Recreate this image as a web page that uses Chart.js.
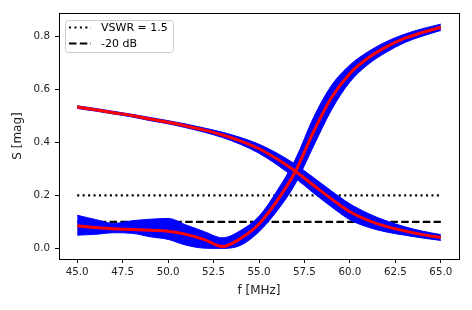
<!DOCTYPE html>
<html>
<head>
<meta charset="utf-8">
<script src="https://cdn.jsdelivr.net/npm/chart.js@4/dist/chart.umd.min.js"></script>
<style>
  html, body { margin: 0; padding: 0; background: #fff; }
  #wrap { width: 472px; height: 310px; }
</style>
</head>
<body>
<div id="wrap"><canvas id="sChart" width="472" height="310"></canvas></div>
<script>
// frequency grid [MHz]
const FREQ = [45, 46, 47, 48, 49, 50, 51, 52, 53, 54, 55, 56, 57, 58, 59, 60, 61, 62, 63, 64, 65];

// falling curve: centre and spread
const S_A = [0.533, 0.523, 0.512, 0.501, 0.488, 0.476, 0.462, 0.446, 0.428, 0.405, 0.376,
  0.337, 0.291, 0.238, 0.186, 0.138, 0.106, 0.083, 0.066, 0.052, 0.041];
const S_A_LOW = [0.528, 0.518, 0.507, 0.496, 0.482, 0.470, 0.455, 0.438, 0.418, 0.392, 0.359,
  0.315, 0.265, 0.209, 0.156, 0.108, 0.080, 0.062, 0.050, 0.039, 0.030];
const S_A_HIGH = [0.538, 0.528, 0.517, 0.506, 0.494, 0.482, 0.469, 0.454, 0.438, 0.418, 0.393,
  0.359, 0.317, 0.267, 0.216, 0.168, 0.132, 0.104, 0.082, 0.065, 0.052];

// rising curve: centre and spread
const S_B = [0.085, 0.079, 0.074, 0.071, 0.068, 0.065, 0.053, 0.033, 0.007, 0.038, 0.092,
  0.180, 0.290, 0.440, 0.570, 0.660, 0.718, 0.760, 0.792, 0.815, 0.834];
const S_B_LOW = [0.050, 0.053, 0.059, 0.057, 0.044, 0.034, 0.012, 0.001, 0.000, 0.012, 0.063,
  0.142, 0.244, 0.386, 0.524, 0.628, 0.694, 0.740, 0.776, 0.801, 0.822];
const S_B_HIGH = [0.125, 0.109, 0.094, 0.104, 0.110, 0.113, 0.088, 0.063, 0.040, 0.068, 0.121,
  0.218, 0.336, 0.494, 0.616, 0.692, 0.742, 0.780, 0.808, 0.829, 0.846];

// reference levels
const REF_NAMES = ["VSWR = 1.5", "-20 dB"];
const REF_LEVELS = [0.2, 0.1];

const X_TICKS = [45, 47.5, 50, 52.5, 55, 57.5, 60, 62.5, 65];
const Y_TICKS = [0, 0.2, 0.4, 0.6, 0.8];

const BLUE = "#0000ff";
const RED = "#ff0000";
const FONT = "DejaVu Sans";
const DOT = [2.05, 3.4];
const DASH = [7.5, 3.3];

Chart.defaults.font.family = FONT;

const pts = (ys) => FREQ.map((f, i) => ({ x: f, y: ys[i] }));
const flat = (v) => [{ x: FREQ[0], y: v }, { x: FREQ[FREQ.length - 1], y: v }];

function band(ys, fill) {
  return {
    data: pts(ys),
    borderColor: BLUE,
    backgroundColor: BLUE,
    borderWidth: 1,
    fill: fill,
    order: 1,
  };
}

function centre(ys) {
  return { data: pts(ys), borderColor: RED, borderWidth: 3, fill: false, order: 0 };
}

// matplotlib-like frame + legend box
const framePlugin = {
  id: "frame",
  afterDraw(chart) {
    const { ctx, chartArea: a } = chart;
    ctx.save();
    ctx.strokeStyle = "#000";
    ctx.lineWidth = 1;
    ctx.strokeRect(a.left + 0.5, a.top + 0.5, a.right - a.left, a.bottom - a.top);

    // legend
    ctx.beginPath();
    ctx.roundRect(65.5, 20.5, 108, 32, 3);
    ctx.fillStyle = "rgba(255,255,255,0.8)";
    ctx.fill();
    ctx.strokeStyle = "#cccccc";
    ctx.stroke();

    const rows = [27.5, 43.5];
    const dashes = [DOT, DASH];
    REF_NAMES.forEach((name, i) => {
      ctx.beginPath();
      ctx.setLineDash(dashes[i]);
      ctx.strokeStyle = "#000";
      ctx.lineWidth = 2.05;
      ctx.moveTo(69, rows[i]);
      ctx.lineTo(91, rows[i]);
      ctx.stroke();
      ctx.setLineDash([]);
      ctx.fillStyle = "#000";
      ctx.font = "11px '" + FONT + "'";
      ctx.textBaseline = "middle";
      ctx.fillText(name, 101, rows[i] + 0.5);
    });
    ctx.restore();
  },
};

new Chart(document.getElementById("sChart"), {
  type: "line",
  data: {
    datasets: [
      band(S_A_LOW, false),
      band(S_A_HIGH, "-1"),
      band(S_B_LOW, false),
      band(S_B_HIGH, "-1"),
      centre(S_A),
      centre(S_B),
      { label: REF_NAMES[0], data: flat(REF_LEVELS[0]), borderColor: "#000", borderWidth: 2.05,
        borderDash: DOT, fill: false, order: 2, tension: 0 },
      { label: REF_NAMES[1], data: flat(REF_LEVELS[1]), borderColor: "#000", borderWidth: 2.05,
        borderDash: DASH, fill: false, order: 2, tension: 0 },
    ],
  },
  options: {
    responsive: false,
    animation: false,
    layout: { padding: { top: 13, right: 13, left: 0, bottom: 0 } },
    elements: {
      point: { radius: 0 },
      line: { cubicInterpolationMode: "monotone", borderCapStyle: "butt" },
    },
    plugins: { legend: { display: false }, tooltip: { enabled: false } },
    scales: {
      x: {
        type: "linear",
        min: 44,
        max: 66,
        afterBuildTicks: (s) => { s.ticks = X_TICKS.map((v) => ({ value: v })); },
        afterFit: (s) => { s.height = 51; },
        border: { display: false },
        grid: { drawOnChartArea: false, drawTicks: true, tickLength: 4, tickColor: "#000" },
        ticks: { color: "#222", font: { size: 10.3 }, padding: 3, maxRotation: 0,
          callback: (v) => Number(v).toFixed(1) },
        title: { display: true, text: "f [MHz]", color: "#222", font: { size: 12 },
          padding: { top: 0, bottom: 12 } },
      },
      y: {
        min: -0.04,
        max: 0.888,
        afterBuildTicks: (s) => { s.ticks = Y_TICKS.map((v) => ({ value: v })); },
        afterFit: (s) => { s.width = 59; },
        border: { display: false },
        grid: { drawOnChartArea: false, drawTicks: true, tickLength: 4, tickColor: "#000" },
        ticks: { color: "#222", font: { size: 10.3 }, padding: 5,
          callback: (v) => Number(v).toFixed(1) },
        title: { display: true, text: "S [mag]", color: "#222", font: { size: 12 },
          padding: { top: 11, bottom: 0 } },
      },
    },
  },
  plugins: [framePlugin],
});
</script>
</body>
</html>
